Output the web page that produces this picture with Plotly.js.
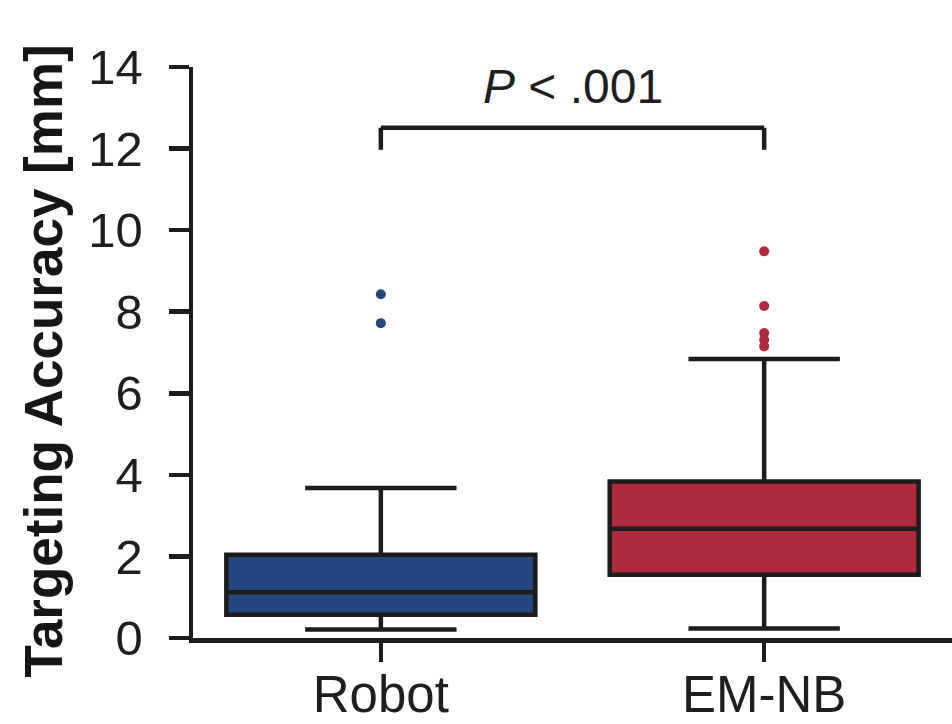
<!DOCTYPE html>
<html>
<head>
<meta charset="utf-8">
<script src="https://cdn.plot.ly/plotly-3.0.1.min.js"></script>
<style>html,body{margin:0;padding:0;background:#fff;}#chart{width:952px;height:724px;}</style>
</head>
<body>
<div id="chart"></div>
<script>
// Categories
const groups = ['Robot', 'EM-NB'];
// Box statistics (mm)
const q1Values = [0.57, 1.55];
const medianValues = [1.12, 2.68];
const q3Values = [2.04, 3.84];
const lowerWhiskers = [0.21, 0.23];
const upperWhiskers = [3.68, 6.84];
// Outliers
const robotOutliers = [8.43, 7.72];
const emnbOutliers = [9.48, 8.14, 7.48, 7.31, 7.15];
// Axis ticks
const yTickValues = [0, 2, 4, 6, 8, 10, 12, 14];
// Significance bracket
const bracketY = [11.97, 12.51];
const pText = '<i>P</i> &lt; .001';

const fillColors = ['#24477f', '#b02a3e'];
const lineColor = '#1c1c1c';
const font = 'Liberation Sans, Arial, Helvetica, sans-serif';

const traces = [];
groups.forEach((g, i) => {
  traces.push({
    type: 'box',
    x: [g],
    q1: [q1Values[i]],
    median: [medianValues[i]],
    q3: [q3Values[i]],
    lowerfence: [lowerWhiskers[i]],
    upperfence: [upperWhiskers[i]],
    boxpoints: false,
    width: 0.806,
    whiskerwidth: 0.49,
    fillcolor: fillColors[i],
    line: {color: lineColor, width: 4.5},
    showlegend: false,
    hoverinfo: 'skip'
  });
});
const outlierSets = [robotOutliers, emnbOutliers];
outlierSets.forEach((vals, i) => {
  traces.push({
    type: 'scatter',
    mode: 'markers',
    x: vals.map(() => groups[i]),
    y: vals,
    marker: {color: fillColors[i], size: 10, line: {width: 0}},
    showlegend: false,
    hoverinfo: 'skip'
  });
});

const shapes = [
  {type: 'line', xref: 'x', yref: 'y', x0: groups[0], x1: groups[0], y0: bracketY[0], y1: bracketY[1], line: {color: lineColor, width: 4.5}},
  {type: 'line', xref: 'x', yref: 'y', x0: groups[0], x1: groups[1], y0: bracketY[1], y1: bracketY[1], line: {color: lineColor, width: 4.5}},
  {type: 'line', xref: 'x', yref: 'y', x0: groups[1], x1: groups[1], y0: bracketY[0], y1: bracketY[1], line: {color: lineColor, width: 4.5}}
];

const layout = {
  width: 952,
  height: 724,
  margin: {l: 193, r: 0, t: 67, b: 86, pad: 0},
  paper_bgcolor: '#ffffff',
  plot_bgcolor: '#ffffff',
  boxmode: 'overlay',
  showlegend: false,
  font: {family: font, color: '#1e1e1e'},
  xaxis: {
    type: 'category',
    categoryorder: 'array',
    categoryarray: groups,
    range: [-0.49, 1.49],
    showline: true, linecolor: lineColor, linewidth: 4.5,
    ticks: 'outside', ticklen: 19, tickwidth: 4.5, tickcolor: lineColor,
    ticklabelstandoff: -11,
    tickfont: {family: font, size: 51, color: '#1e1e1e'},
    showgrid: false, zeroline: false, fixedrange: true
  },
  yaxis: {
    range: [0, 14],
    tickvals: yTickValues,
    ticktext: yTickValues.map(String),
    showline: true, linecolor: lineColor, linewidth: 4.5,
    ticks: 'outside', ticklen: 20, tickwidth: 4.5, tickcolor: lineColor,
    ticklabelstandoff: 16,
    tickfont: {family: font, size: 49, color: '#1e1e1e'},
    showgrid: false, zeroline: false, fixedrange: true
  },
  shapes: shapes,
  annotations: [
    {
      text: pText, xref: 'x', yref: 'y', x: 0.5, y: 13.52,
      xanchor: 'center', yanchor: 'middle', showarrow: false,
      font: {family: font, size: 48, color: '#1e1e1e'}
    },
    {
      text: 'Targeting Accuracy [mm]', xref: 'paper', yref: 'paper',
      x: -0.197, y: 0.485, xanchor: 'center', yanchor: 'middle',
      textangle: -90, showarrow: false,
      font: {family: font, size: 53, weight: 'bold', color: '#161616'}
    }
  ]
};

Plotly.newPlot('chart', traces, layout, {displayModeBar: false, staticPlot: true});
</script>
</body>
</html>
